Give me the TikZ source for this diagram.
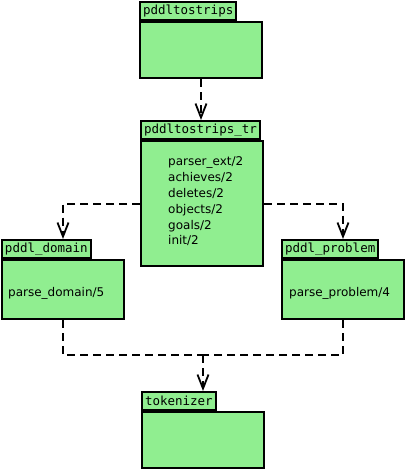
\documentclass[tikz,border=0pt]{standalone}
\usepackage{fontspec}
\setmainfont{DejaVu Sans}
\setmonofont{DejaVu Sans Mono}
\usetikzlibrary{arrows.meta,positioning}
\definecolor{verdepaq}{HTML}{90EE90}
\tikzset{
    paquete/.style={rectangle,draw,fill=verdepaq,line width=2pt,minimum width=122pt,inner sep=0pt},
    pestana/.style={rectangle,draw,fill=verdepaq,line width=2pt,minimum height=18pt,inner xsep=3pt,inner ysep=0pt,node font=\ttfamily\fontsize{12.5}{14}\selectfont,anchor=south west},
    contenido/.style={inner sep=0pt,align=left,node font=\fontsize{12}{15.8}\selectfont},
    dependencia/.style={draw,line width=2pt,dash pattern=on 8pt off 5pt},
    flecha/.style={dependencia,-{Straight Barb[length=14pt,width=11pt,line width=1.8pt]}},
}

\begin{document}
\begin{tikzpicture}[x=1pt,y=-1pt]
    \useasboundingbox (0,0) rectangle (406,471);

    \node [paquete,minimum height=56pt] (strips) at (201,50) {};
    \node [pestana,above right=0pt of strips.north west] (tstrips) {pddltostrips};

    \node [paquete,minimum height=125pt] (tr) at (202,203.5) {};
    \node [pestana,above right=0pt of tr.north west] (ttr) {pddltostrips\_tr};
    \node [contenido,right=28pt of tr.west,yshift=2pt] (ctr) {parser\_ext/2\\achieves/2\\deletes/2\\objects/2\\goals/2\\init/2};

    \node [paquete,minimum height=59pt] (dom) at (63,289.5) {};
    \node [pestana,above right=0pt of dom.north west] (tdom) {pddl\_domain};
    \node [contenido,right=7pt of dom.west,yshift=-4pt] (cdom) {parse\_domain/5};

    \node [paquete,minimum height=59pt] (prob) at (343,289.5) {};
    \node [pestana,above right=0pt of prob.north west] (tprob) {pddl\_problem};
    \node [contenido,right=8pt of prob.west,yshift=-4pt] (cprob) {parse\_problem/4};

    \node [paquete,minimum height=56pt] (tok) at (203,440) {};
    \node [pestana,above right=0pt of tok.north west] (ttok) {tokenizer};

    \path [flecha] (strips.south) -- (strips.south |- ttr.north);
    \path [flecha] (tr.west) -| (tdom.north -| dom.north);
    \path [flecha] (tr.east) -| (tprob.north -| prob.north);

    \coordinate (union) at (203,355);
    \path [dependencia] (dom.south) |- (union);
    \path [dependencia] (prob.south) |- (union);
    \path [flecha] (union) -- (union |- ttok.north);
\end{tikzpicture}
\end{document}
